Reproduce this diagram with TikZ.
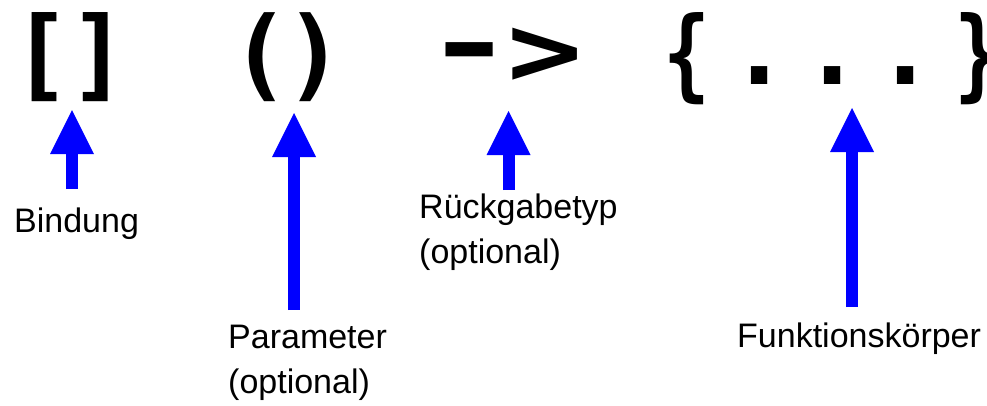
\documentclass[tikz,border=0pt]{standalone}
\usepackage{fontspec}
\setmainfont{Liberation Sans}
\newfontfamily\codefont{DejaVu Sans Mono}
\usetikzlibrary{arrows.meta}
\definecolor{arrblue}{RGB}{0,0,255}
\tikzset{
  glyph/.style={inner sep=0pt, anchor=base, font=\codefont\bfseries\fontsize{100}{100}\selectfont},
  lbl/.style={inner sep=0pt, anchor=base west, align=left, font=\fontsize{34}{45}\selectfont},
  uparrow/.style={draw=arrblue, line width=12pt, -{Triangle[length=44pt,width=44pt,line width=0pt]}}
}
\begin{document}
\begin{tikzpicture}[x=1pt,y=-1pt]
\useasboundingbox (0,0) rectangle (987,405);
% code glyphs
\node[glyph] (lbrack) at (42,88) {[};
\node[glyph] (rbrack) at (99,88) {]};
\node[glyph] (lpar) at (261,88) {(};
\node[glyph] (rpar) at (315,88) {)};
\node[glyph] (dash) at (470,78) {\scalebox{1.53}[1]{-}};
\node[glyph] (gt) at (545,85) {\scalebox{1.25}[1]{>}};
\node[glyph] (lbrace) at (687,88) {\scalebox{0.78}[1]{\{}};
\node[glyph] (dot1) at (760,84) {.};
\node[glyph] (dot2) at (833,84) {.};
\node[glyph] (dot3) at (906,84) {.};
\node[glyph] (rbrace) at (978,88) {\scalebox{0.78}[1]{\}}};
% labels
\node[lbl] (bind) at (14,232) {Bindung};
\node[lbl] (param) at (228,393) {Parameter\\(optional)};
\node[lbl] (ret) at (419,263) {Rückgabetyp\\(optional)};
\node[lbl] (body) at (737,347) {Funktionskörper};
% arrow ends
\coordinate (a1s) at (72,189);  \coordinate (a1t) at (72,110);
\coordinate (a2s) at (294,310); \coordinate (a2t) at (294,113);
\coordinate (a3s) at (508.5,190); \coordinate (a3t) at (508.5,111);
\coordinate (a4s) at (852,307); \coordinate (a4t) at (852,108);
\draw[uparrow] (a1s) -- (a1t);
\draw[uparrow] (a2s) -- (a2t);
\draw[uparrow] (a3s) -- (a3t);
\draw[uparrow] (a4s) -- (a4t);
\end{tikzpicture}
\end{document}
